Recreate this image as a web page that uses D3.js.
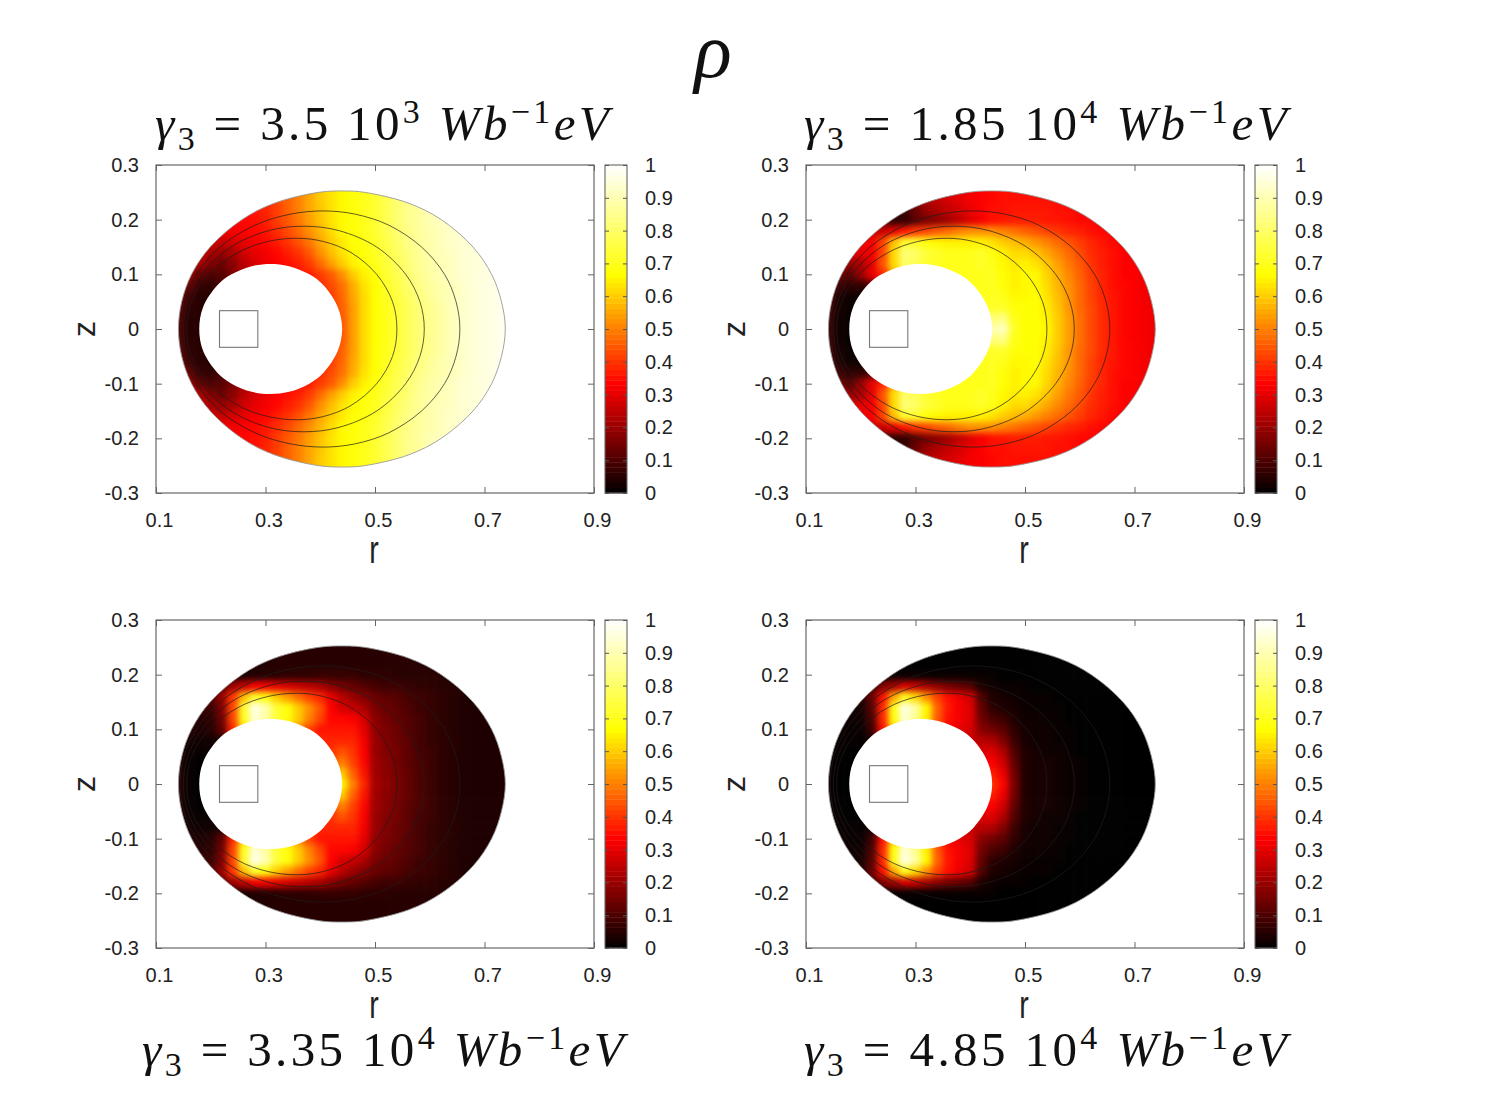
<!DOCTYPE html>
<html>
<head>
<meta charset="utf-8">
<script src="https://cdn.jsdelivr.net/npm/d3@7"></script>
<style>
body{margin:0;background:#fff;}
svg{display:block;}
text{font-family:"Liberation Sans",Arial,sans-serif;fill:#222;}
text.title{font-family:"Liberation Serif",serif;fill:#111;}
</style>
</head>
<body>
<div id="chart"></div>
<script>
// grid the density was read on, upper half only (picture is symmetric in z)
const gridR=[.14,.16,.18,.20,.22,.24,.26,.28,.30,.32,.34,.36,.38,.40,.42,.44,.46,.48,.50,.52,.54,.56,.58,.60,.62,.64,.66,.68,.70,.72,.74];
const gridZ=[0,.02,.04,.06,.08,.10,.12,.14,.16,.18,.20,.22,.24,.26];

// values in hundredths, one row per gridZ
const rhoA=[
[12,5,5,5,10,15,20,25,28,30,32,35,37,39,42,45,54,62,67,70,74,78,82,85,88,91,93,95,96,97,98],
[13,5,5,5,9,14,19,25,28,30,32,35,37,39,42,45,54,62,67,70,74,78,82,85,88,91,93,95,96,97,98],
[15,6,5,5,8,12,18,24,27,30,32,34,36,38,41,46,54,62,67,70,74,78,82,85,88,91,93,95,96,97,98],
[18,8,5,5,8,12,18,24,27,30,32,34,36,38,41,47,55,62,67,71,75,79,83,86,89,91,93,95,96,97,98],
[22,14,7,6,9,14,20,25,28,30,32,34,36,39,43,48,56,63,67,72,76,80,84,87,89,91,93,95,96,97,98],
[25,20,13,10,11,16,22,26,29,31,33,35,37,41,45,52,60,65,68,73,77,81,85,88,90,92,94,95,96,97,98],
[28,26,22,17,14,18,24,28,31,33,35,37,41,47,54,60,65,67,70,74,78,82,86,88,90,92,94,95,96,97,98],
[30,30,27,22,20,22,27,30,32,34,37,40,45,52,58,63,66,68,71,75,79,83,86,89,91,92,94,95,96,97,98],
[32,32,30,27,26,28,30,32,34,37,40,44,49,55,60,64,67,69,72,76,80,84,87,89,91,93,94,95,96,97,98],
[33,33,33,31,31,32,33,34,36,39,43,47,52,57,62,66,67,70,73,77,81,84,87,89,91,93,94,95,96,97,98],
[33,33,34,33,33,33,34,35,37,41,45,49,54,59,63,66,68,70,73,77,81,85,87,90,92,93,94,95,96,97,98],
[33,33,34,33,33,33,34,36,38,41,46,50,55,59,63,66,68,70,73,77,81,85,87,90,92,93,94,95,96,97,98],
[33,33,34,33,33,33,34,36,38,42,46,50,55,60,63,66,68,70,73,77,81,85,87,90,92,93,94,95,96,97,98],
[33,33,34,33,33,33,34,36,38,42,46,50,55,60,63,66,68,70,73,77,81,85,87,90,92,93,94,95,96,97,98]
];
const rhoB=[
[10,2,1,1,2,5,10,40,60,70,75,80,85,88,90,90,92,72,67,67,66,60,54,48,43,39,36,34,33,32,31],
[10,2,1,1,2,5,10,40,60,70,72,74,76,78,80,82,84,70,67,67,65,60,54,48,43,39,36,34,33,32,31],
[12,3,1,1,2,5,10,40,60,68,70,70,70,70,70,72,72,68,67,67,64,59,53,47,43,39,36,34,33,32,31],
[14,4,2,2,3,6,12,40,60,68,70,70,70,70,70,71,70,66,66,67,63,58,53,47,42,38,36,34,33,32,31],
[18,8,6,6,10,25,40,55,65,70,70,70,70,70,70,71,68,65,66,66,62,57,52,47,42,38,35,34,33,32,31],
[24,15,12,20,30,38,55,72,75,72,70,70,70,70,70,71,67,65,66,66,61,56,51,46,41,38,35,33,33,32,31],
[28,23,20,22,30,44,62,80,78,73,71,70,70,70,72,70,66,64,65,63,59,54,49,45,40,37,35,33,33,32,31],
[30,29,28,30,32,42,62,82,80,74,72,70,70,70,72,69,65,62,62,59,55,51,47,43,39,37,35,33,33,32,31],
[32,31,31,32,32,42,58,72,72,68,66,65,65,65,65,63,60,58,56,53,50,47,44,41,38,36,34,33,33,32,31],
[33,32,31,29,26,26,30,36,40,42,45,47,50,52,52,52,50,48,46,44,42,40,38,37,35,34,33,33,32,32,31],
[33,32,30,24,16,12,6,6,12,16,18,21,25,29,32,35,36,37,37,37,36,36,35,34,34,33,33,32,32,32,31],
[33,32,28,20,15,12,8,8,14,20,23,26,28,31,33,35,35,36,36,36,36,35,35,34,34,33,33,32,32,32,31],
[30,28,24,20,18,18,18,20,22,24,26,28,30,32,33,34,35,35,35,35,35,35,34,34,33,33,33,32,32,31,31],
[30,28,24,20,18,18,18,20,22,24,26,28,30,32,33,34,35,35,35,35,35,35,34,34,33,33,33,32,32,31,31]
];
const rhoC=[
[6,1,0,0,0,1,3,10,20,30,40,45,50,55,60,66,50,38,22,19,16,13,10,8,6,5,4,4,4,4,4],
[6,1,0,0,0,1,3,10,20,30,35,38,40,42,50,60,46,36,21,18,16,13,10,8,6,5,4,4,4,4,4],
[6,1,0,0,0,1,3,10,20,30,35,36,38,40,44,50,42,34,21,18,15,12,10,8,6,5,4,4,4,4,4],
[6,2,1,1,1,2,4,12,22,30,35,36,37,38,40,44,40,33,20,17,15,12,9,8,6,5,4,4,4,4,4],
[7,3,2,2,4,30,50,62,55,50,45,40,38,38,38,38,38,32,20,17,14,12,9,7,6,5,4,4,4,4,4],
[7,5,4,5,12,38,62,85,80,70,60,50,42,36,36,36,36,30,19,16,14,11,9,7,6,5,4,4,4,4,4],
[7,6,5,6,15,42,70,95,88,74,68,60,50,42,34,34,33,28,18,15,13,11,9,7,6,5,4,4,4,4,4],
[7,6,6,8,17,42,72,97,90,74,68,60,52,44,33,28,26,22,16,14,12,10,8,7,6,5,4,4,4,4,4],
[7,6,7,10,20,40,58,72,68,60,54,48,42,38,30,24,20,17,14,12,11,9,8,7,6,5,4,4,4,4,4],
[6,6,6,8,12,20,26,32,32,30,28,26,24,22,18,15,13,11,9,8,8,7,6,6,5,5,4,4,4,4,4],
[5,5,5,4,3,3,3,4,5,5,6,6,6,7,7,7,7,6,6,6,5,5,5,5,5,4,4,4,4,4,4],
[5,5,5,4,4,4,4,4,4,5,5,5,5,5,5,5,5,5,5,5,5,5,5,5,5,4,4,4,4,4,4],
[5,5,5,4,4,4,4,4,4,5,5,5,5,5,5,5,5,5,5,5,5,5,5,5,5,4,4,4,4,4,4],
[5,5,5,4,4,4,4,4,4,5,5,5,5,5,5,5,5,5,5,5,5,5,5,5,5,4,4,4,4,4,4]
];
const rhoD=[
[2,0,0,0,0,0,1,4,10,18,24,28,30,34,38,40,34,16,4,3,3,2,1,1,0,0,0,0,0,0,0],
[2,0,0,0,0,0,1,4,10,18,24,26,28,32,36,37,31,15,4,3,3,2,1,1,0,0,0,0,0,0,0],
[2,0,0,0,0,0,1,4,10,18,22,24,26,30,33,33,27,13,4,3,3,2,1,1,0,0,0,0,0,0,0],
[2,1,0,0,0,1,2,5,10,18,22,24,26,28,29,29,23,11,4,3,2,2,1,0,0,0,0,0,0,0,0],
[2,1,1,1,2,20,45,60,55,40,30,28,26,26,24,23,17,8,3,2,2,1,1,0,0,0,0,0,0,0,0],
[3,2,1,1,8,35,60,85,80,62,40,32,30,28,18,15,12,6,3,2,2,1,1,0,0,0,0,0,0,0,0],
[3,2,2,2,10,38,68,95,85,65,45,35,32,29,15,10,8,4,2,2,1,1,0,0,0,0,0,0,0,0,0],
[3,2,2,3,12,38,70,97,88,66,46,36,32,29,13,6,4,3,2,1,1,1,0,0,0,0,0,0,0,0,0],
[2,2,3,4,14,35,55,70,62,52,42,35,31,27,11,4,3,2,1,1,1,0,0,0,0,0,0,0,0,0,0],
[1,1,1,3,8,16,22,28,26,22,18,15,13,11,4,2,1,1,1,0,0,0,0,0,0,0,0,0,0,0,0],
[1,1,1,1,1,1,1,1,1,1,1,1,1,1,1,1,0,0,0,0,0,0,0,0,0,0,0,0,0,0,0],
[0,0,0,0,0,0,0,0,0,0,0,0,0,0,0,0,0,0,0,0,0,0,0,0,0,0,0,0,0,0,0],
[0,0,0,0,0,0,0,0,0,0,0,0,0,0,0,0,0,0,0,0,0,0,0,0,0,0,0,0,0,0,0],
[0,0,0,0,0,0,0,0,0,0,0,0,0,0,0,0,0,0,0,0,0,0,0,0,0,0,0,0,0,0,0]
];

// outlines, upper half from inboard to outboard [r,z]
const outerEdge=[[.141,0],[.147,.05],[.165,.10],[.199,.15],[.257,.20],[.316,.23],[.397,.25],[.445,.2525],[.481,.25],[.562,.23],[.621,.20],[.679,.15],[.713,.10],[.731,.05],[.738,0]];
const holeEdge=[[.179,0],[.186,.04],[.212,.08],[.238,.10],[.275,.115],[.309,.119],[.343,.115],[.380,.10],[.406,.08],[.432,.04],[.440,0]];
const fluxInner=[[.156,0],[.165,.05],[.197,.10],[.250,.14],[.304,.16],[.358,.166],[.406,.16],[.456,.14],[.503,.10],[.532,.05],[.540,0]];
const fluxMiddle=[[.150,0],[.158,.05],[.184,.10],[.237,.15],[.306,.18],[.370,.188],[.434,.18],[.503,.15],[.556,.10],[.582,.05],[.590,0]];
const fluxOuter=[[.144,0],[.151,.05],[.174,.10],[.217,.15],[.281,.19],[.345,.21],[.406,.216],[.464,.21],[.525,.19],[.585,.15],[.627,.10],[.648,.05],[.655,0]];
const coilR=[.216,.286];
const coilZ=[-.0335,.0335];

const rTicks=[.1,.3,.5,.7,.9];
const zTicks=[-.3,-.2,-.1,0,.1,.2,.3];
const barTicks=[0,.1,.2,.3,.4,.5,.6,.7,.8,.9,1];
const gammaMant=["3.5","1.85","3.35","4.85"];
const gammaExp=["3","4","4","4"];

const panels=[
  {rho:rhoA,x0:156,y0:165,rLabelY:563},
  {rho:rhoB,x0:806,y0:165,rLabelY:563},
  {rho:rhoC,x0:156,y0:620,rLabelY:1018},
  {rho:rhoD,x0:806,y0:620,rLabelY:1018}
];
const titlePos=[
  {x:155,y:140,w:457},
  {x:804,y:140,w:486},
  {x:142,y:1066,w:485},
  {x:804,y:1066,w:486}
];

const W=438,H=328;
const hot=d3.scaleLinear().domain([0,1/3,2/3,1]).range(["#000","#f00","#ff0","#fff"]).clamp(true);

const svg=d3.select("#chart").append("svg").attr("width",1500).attr("height",1102);
const defs=svg.append("defs");
const f=defs.append("filter").attr("id","soft")
  .attr("x","-5%").attr("y","-5%").attr("width","110%").attr("height","110%")
  .attr("color-interpolation-filters","sRGB");
f.append("feGaussianBlur").attr("stdDeviation",3.2);

function closed(half){
  // full outline, lower half mirrored
  const low=half.slice(1,-1).reverse().map(p=>[p[0],-p[1]]);
  return half.concat(low);
}

function ticksOf(g,col){
  g.selectAll(".domain").remove();
  g.selectAll(".tick line").attr("stroke",col).attr("stroke-width",1);
}

panels.forEach((p,i)=>{
  const g=svg.append("g").attr("transform",`translate(${p.x0},${p.y0})`);
  const x=d3.scaleLinear().domain([.1,.9]).range([0,W]);
  const y=d3.scaleLinear().domain([-.3,.3]).range([H,0]);
  const line=d3.line().x(d=>x(d[0])).y(d=>y(d[1])).curve(d3.curveCatmullRomClosed);

  const clipId="clip"+i;
  defs.append("clipPath").attr("id",clipId).append("path")
    .attr("clip-rule","evenodd")
    .attr("d",line(closed(outerEdge))+line(closed(holeEdge)));

  // cells, both halves
  const cells=[];
  gridZ.forEach((z,j)=>gridR.forEach((r,k)=>{
    cells.push({r,z,k,j,v:p.rho[j][k]/100});
    if(j>0)cells.push({r,z:-z,k,j,v:p.rho[j][k]/100});
  }));
  const last=gridR.length-1,top=gridZ.length-1;
  g.append("g").attr("clip-path",`url(#${clipId})`)
    .append("g").attr("filter","url(#soft)")
    .selectAll("rect").data(cells).enter().append("rect")
    .attr("x",d=>x(d.k===0?d.r-.03:d.r-.01))
    .attr("width",d=>x(d.k===last?d.r+.03:d.r+.01)-x(d.k===0?d.r-.03:d.r-.01)+.5)
    .attr("y",d=>d.j===top&&d.z>0?y(d.z+.03):y(d.z+.01))
    .attr("height",d=>(d.j===top?y(0)-y(.04):y(0)-y(.02))+.5)
    .attr("fill",d=>hot(d.v));

  [fluxInner,fluxMiddle,fluxOuter].forEach(c=>{
    g.append("path").attr("d",line(closed(c)))
      .attr("fill","none").attr("stroke","#1c1c1c").attr("stroke-width",.7);
  });
  g.append("path").attr("d",line(closed(outerEdge)))
    .attr("fill","none").attr("stroke","#999").attr("stroke-width",.9);

  g.append("rect")
    .attr("x",x(coilR[0])).attr("width",x(coilR[1])-x(coilR[0]))
    .attr("y",y(coilZ[1])).attr("height",y(coilZ[0])-y(coilZ[1]))
    .attr("fill","none").attr("stroke","#777").attr("stroke-width",1.1);

  // frame and inward ticks on all four sides
  g.append("rect").attr("width",W).attr("height",H)
    .attr("fill","none").attr("stroke","#666").attr("stroke-width",1.2);

  const xb=g.append("g").attr("transform",`translate(0,${H})`)
    .call(d3.axisBottom(x).tickValues(rTicks).tickSize(-6).tickPadding(20).tickFormat(d3.format(".1f")));
  ticksOf(xb,"#666");
  xb.selectAll("text").attr("font-size",20).attr("dx",3).attr("fill","#222")
    .style("font-family",'"Liberation Sans"');
  const xt=g.append("g").call(d3.axisTop(x).tickValues(rTicks).tickSize(-6).tickFormat(""));
  ticksOf(xt,"#666");

  const yl=g.append("g")
    .call(d3.axisLeft(y).tickValues(zTicks).tickSize(-6).tickPadding(17).tickFormat(d=>d===0?"0":d3.format(".1f")(d).replace("−","-")));
  ticksOf(yl,"#666");
  yl.selectAll("text").attr("font-size",20).attr("fill","#222")
    .style("font-family",'"Liberation Sans"');
  const yr=g.append("g").attr("transform",`translate(${W},0)`)
    .call(d3.axisRight(y).tickValues(zTicks).tickSize(-6).tickFormat(""));
  ticksOf(yr,"#666");

  svg.append("text")
    .attr("transform",`translate(${p.x0+x(.5)-1},${p.rLabelY}) scale(.75,1)`)
    .attr("text-anchor","middle").attr("font-size",38).text("r");
  svg.append("text")
    .attr("transform",`translate(${p.x0-61},${p.y0+y(0)}) rotate(-90)`)
    .attr("text-anchor","middle").attr("font-size",32).text("z");

  // colour bar
  const bar=svg.append("g").attr("transform",`translate(${p.x0+W+11},${p.y0})`);
  const bw=22;
  const yb=d3.scaleLinear().domain([0,1]).range([H,0]);
  const levels=d3.range(64);
  bar.selectAll("rect.lev").data(levels).enter().append("rect").attr("class","lev")
    .attr("x",0).attr("width",bw)
    .attr("y",d=>yb((d+1)/64)).attr("height",d=>yb(d/64)-yb((d+1)/64)+.4)
    .attr("fill",d=>hot((d+.5)/64));
  bar.append("rect").attr("width",bw).attr("height",H)
    .attr("fill","none").attr("stroke","#666").attr("stroke-width",1.1);
  const bl=bar.append("g").call(d3.axisLeft(yb).tickValues(barTicks).tickSize(-4).tickFormat(""));
  ticksOf(bl,"#555");
  const br=bar.append("g").attr("transform",`translate(${bw},0)`)
    .call(d3.axisRight(yb).tickValues(barTicks).tickSize(-4).tickPadding(18).tickFormat(d=>d===0||d===1?String(d):d3.format(".1f")(d)));
  ticksOf(br,"#555");
  br.selectAll("text").attr("font-size",20).attr("fill","#222")
    .style("font-family",'"Liberation Sans"');
});

// big rho
svg.append("text").attr("class","title")
  .attr("x",713).attr("y",77).attr("text-anchor","middle")
  .attr("font-size",78).attr("font-style","italic").text("ρ");

titlePos.forEach((t,i)=>{
  const txt=svg.append("text").attr("class","title")
    .attr("x",t.x).attr("y",t.y).attr("font-size",49);
  txt.append("tspan").attr("font-style","italic").text("γ");
  txt.append("tspan").attr("font-size",34).attr("dy",10).text("3");
  txt.append("tspan").attr("dy",-10).text(" = "+gammaMant[i]+" 10");
  txt.append("tspan").attr("font-size",34).attr("dy",-17).text(gammaExp[i]);
  txt.append("tspan").attr("dy",17).text(" ");
  txt.append("tspan").attr("font-style","italic").text("Wb");
  txt.append("tspan").attr("font-size",34).attr("dy",-17).text("−1");
  txt.append("tspan").attr("font-style","italic").attr("dy",17).text("eV");
  const chars=txt.text().length;
  const measured=txt.node().getComputedTextLength();
  txt.attr("letter-spacing",(t.w-measured)/chars);
});
</script>
</body>
</html>
